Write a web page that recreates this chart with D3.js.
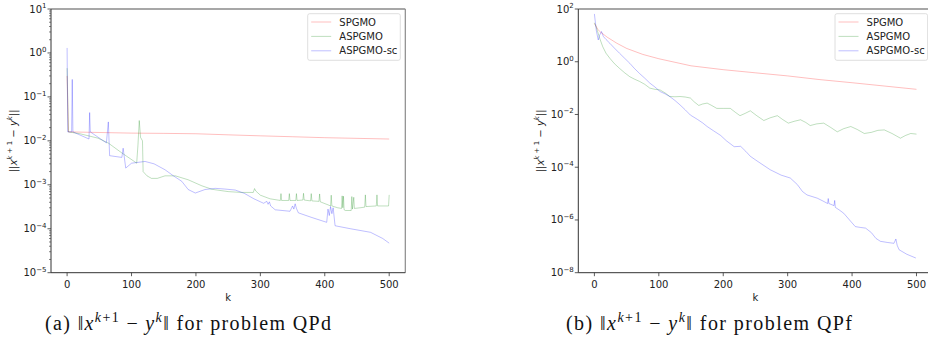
<!DOCTYPE html>
<html><head><meta charset="utf-8">
<script src="https://cdn.jsdelivr.net/npm/d3@7"></script>
<style>body{margin:0;background:#fff}svg{display:block}</style>
</head><body>
<svg id="c" width="928" height="342"></svg>
<script>
// ---------- data ----------
const seriesNames = ["SPGMO", "ASPGMO", "ASPGMO-sc"];
const xTicks = [0, 100, 200, 300, 400, 500];
const yTicksQPd = [-5, -4, -3, -2, -1, 0, 1];      // exponents
const yTicksQPf = [-8, -6, -4, -2, 0, 2];
const captions = ["(a)", "(b)"];
const problems = ["QPd", "QPf"];

const qpdSPGMO = [[0,0.3],[2,0.016],[50,0.0155],[100,0.015],[150,0.0148],[200,0.0145],[250,0.0137],[300,0.013],[350,0.0124],[400,0.0118],[450,0.0114],[500,0.011]];
const qpdASPGMO = [[0,0.45],[2,0.016],[20,0.0145],[48,0.0115],[64,0.0089],[85,0.0053],[103,0.0035],[108,0.0031],[110,0.008],[112,0.029],[114,0.012],[117,0.0100],[118,0.002],[124,0.0016],[131,0.0014],[140,0.0014],[152,0.0016],[168,0.0016],[188,0.0013],[209,0.00095],[225,0.00079],[250,0.0007],[270,0.00067],[289,0.00067],[291,0.00082],[293,0.00072],[300,0.00058],[315,0.00048],[331,0.00044],[332,0.00063],[333,0.00044],[344,0.00044],[345,0.00063],[346,0.00044],[355,0.00044],[356,0.00063],[357,0.00044],[366,0.00045],[367,0.00064],[368,0.00045],[378,0.00043],[379,0.00063],[380,0.00043],[391,0.00042],[392,0.00062],[393,0.00041],[405,0.00035],[409,0.00033],[410,0.00058],[411,0.00033],[420,0.0003],[426,0.00029],[427,0.00056],[428,0.0003],[429,0.00055],[430,0.00027],[432,0.00026],[441,0.00026],[442,0.00054],[443,0.00028],[445,0.00052],[446,0.00029],[455,0.0003],[462,0.00031],[463,0.00059],[464,0.00032],[480,0.00033],[481,0.00059],[482,0.00033],[499,0.00033],[500,0.00059]];
const qpdASPGMOsc = [[0,1.3],[1,0.016],[7,0.016],[8,0.25],[9,0.016],[34,0.011],[35,0.044],[36,0.016],[61,0.009],[64,0.027],[66,0.0046],[85,0.0042],[87,0.0068],[91,0.0024],[100,0.0031],[121,0.0034],[135,0.003],[152,0.0022],[165,0.0016],[178,0.0012],[188,0.00078],[199,0.00065],[214,0.00078],[230,0.00083],[245,0.0008],[261,0.00076],[275,0.00064],[290,0.00048],[305,0.00038],[310,0.00042],[312,0.00036],[314,0.00041],[316,0.00033],[323,0.00027],[346,0.00025],[350,0.00033],[352,0.00028],[354,0.00037],[356,0.00029],[359,0.00023],[380,0.00018],[403,0.00014],[405,0.00028],[407,0.0002],[409,0.00032],[411,0.00022],[413,0.0003],[416,0.000117],[440,0.0001],[471,0.000083],[490,0.00006],[500,0.000047]];

const qpfSPGMO = [[0,28],[2,24],[5,17],[10,13],[20,8.5],[35,5],[50,3.2],[75,1.9],[100,1.3],[150,0.7],[200,0.5],[250,0.38],[300,0.29],[350,0.21],[400,0.16],[450,0.12],[500,0.09]];
const qpfASPGMO = [[0,30],[3,20],[8,8],[13,3.7],[18,2.1],[24,1.35],[31,0.85],[39,0.56],[47,0.38],[55,0.27],[62,0.22],[70,0.18],[78,0.14],[86,0.1],[94,0.09],[102,0.085],[110,0.065],[117,0.048],[125,0.047],[133,0.048],[141,0.046],[149,0.042],[155,0.03],[162,0.022],[168,0.025],[175,0.027],[182,0.022],[190,0.017],[200,0.017],[211,0.017],[219,0.012],[226,0.009],[234,0.011],[242,0.0138],[252,0.009],[263,0.0059],[273,0.0075],[284,0.009],[292,0.0065],[301,0.0047],[310,0.0055],[320,0.0063],[328,0.005],[335,0.0038],[345,0.0044],[356,0.0047],[367,0.0032],[377,0.0022],[387,0.0029],[398,0.0035],[408,0.0027],[419,0.0019],[430,0.0021],[440,0.0025],[450,0.0026],[462,0.0019],[475,0.00126],[483,0.0016],[491,0.0019],[500,0.0018]];
const qpfASPGMOsc = [[0,65],[3,15],[6,6.7],[8,10],[11,14],[14,9],[18,7],[24,5],[31,3.3],[39,2.1],[47,1.35],[55,0.87],[62,0.56],[70,0.36],[78,0.24],[86,0.155],[94,0.11],[102,0.074],[110,0.06],[117,0.048],[125,0.034],[133,0.023],[141,0.015],[149,0.0095],[160,0.0065],[168,0.0048],[175,0.0035],[185,0.0024],[196,0.0016],[205,0.001],[217,0.0006],[227,0.00062],[235,0.0004],[242,0.00026],[250,0.00019],[260,0.00013],[273,0.00008],[290,0.00005],[304,0.000039],[315,0.000022],[323,0.000012],[330,0.0000089],[346,0.0000067],[355,0.0000052],[362,0.0000042],[363,0.0000065],[364,0.0000042],[372,0.0000035],[373,0.0000055],[374,0.000003],[380,0.0000024],[387,0.0000018],[396,0.000001],[405,0.00000056],[413,0.00000052],[421,0.00000049],[430,0.00000033],[437,0.0000002],[444,0.000000155],[455,0.00000014],[465,0.00000013],[468,0.00000019],[470,0.00000011],[473,0.000000074],[485,0.00000005],[499,0.000000036]];

const seriesColors = ["red", "green", "blue"];

// ---------- layout ----------
const svg = d3.select("#c");
const FONT = "DejaVu Sans";

const panels = [
  {x0:51, x1:405.3, y0:9, y1:272.7, dom:[1e-5,10], ticks:yTicksQPd, minor:true,
   data:[qpdSPGMO,qpdASPGMO,qpdASPGMOsc], ylabX:13, cap:captions[0], prob:problems[0], capX:45},
  {x0:578.3, x1:932.6, y0:9, y1:272.7, dom:[1e-8,100], ticks:yTicksQPf, minor:false,
   data:[qpfSPGMO,qpfASPGMO,qpfASPGMOsc], ylabX:540, cap:captions[1], prob:problems[1], capX:566}
];

panels.forEach(p => {
  const g = svg.append("g");
  const x = d3.scaleLinear().domain([-25,525]).range([p.x0,p.x1]);
  const y = d3.scaleLog().domain(p.dom).range([p.y1,p.y0]);

  const cid = "clip" + Math.round(p.x0);
  svg.append("clipPath").attr("id",cid).append("rect")
    .attr("x",p.x0).attr("y",p.y0).attr("width",p.x1-p.x0).attr("height",p.y1-p.y0);

  const line = d3.line().x(d=>x(d[0])).y(d=>y(d[1]));
  p.data.forEach((s,i) => {
    g.append("path").attr("d",line(s)).attr("fill","none")
      .attr("stroke",seriesColors[i]).attr("stroke-opacity",0.3)
      .attr("stroke-width",0.85).attr("clip-path",`url(#${cid})`);
  });

  // spines
  g.append("line").attr("x1",p.x0).attr("x2",p.x1).attr("y1",p.y0).attr("y2",p.y0)
    .attr("stroke","#8a8a8a").attr("stroke-width",1.6);
  g.append("line").attr("x1",p.x1).attr("x2",p.x1).attr("y1",p.y0).attr("y2",p.y1)
    .attr("stroke","#8a8a8a").attr("stroke-width",1.2);
  g.append("line").attr("x1",p.x0).attr("x2",p.x0).attr("y1",p.y0).attr("y2",p.y1)
    .attr("stroke","#333").attr("stroke-width",1);
  g.append("line").attr("x1",p.x0).attr("x2",p.x1).attr("y1",p.y1).attr("y2",p.y1)
    .attr("stroke","#333").attr("stroke-width",1);

  xTicks.forEach(t => {
    const xx = x(t);
    g.append("line").attr("x1",xx).attr("x2",xx).attr("y1",p.y1).attr("y2",p.y1+3.5)
      .attr("stroke","#333").attr("stroke-width",0.8);
    g.append("text").attr("x",xx).attr("y",p.y1+15).attr("text-anchor","middle")
      .attr("font-family",FONT).attr("font-size",10).attr("fill","#222").text(t);
  });
  g.append("text").attr("x",x(250)).attr("y",300.5).attr("text-anchor","middle")
    .attr("font-family",FONT).attr("font-size",10).attr("fill","#222").text("k");

  p.ticks.forEach(e => {
    const yy = y(Math.pow(10,e));
    g.append("line").attr("x1",p.x0-3.5).attr("x2",p.x0).attr("y1",yy).attr("y2",yy)
      .attr("stroke","#333").attr("stroke-width",0.8);
    const t = g.append("text").attr("x",p.x0-4.5).attr("y",yy+3.5).attr("text-anchor","end")
      .attr("font-family",FONT).attr("font-size",10).attr("fill","#222");
    t.append("tspan").text("10");
    t.append("tspan").attr("dy",-4.5).attr("font-size",7).text(e<0 ? "\u2212"+(-e) : String(e));
  });
  if (p.minor) {
    const [lo,hi] = p.dom;
    for (let e=Math.log10(lo); e<Math.log10(hi); e++) {
      for (let m=2; m<=9; m++) {
        const yy = y(m*Math.pow(10,e));
        g.append("line").attr("x1",p.x0-2).attr("x2",p.x0).attr("y1",yy).attr("y2",yy)
          .attr("stroke","#333").attr("stroke-width",0.6);
      }
    }
  }

  // y label
  const yl = g.append("text").attr("transform",`translate(${p.ylabX+3.5},${(p.y0+p.y1)/2}) rotate(-90)`)
    .attr("text-anchor","middle").attr("font-family",FONT).attr("font-size",10).attr("fill","#222");
  yl.append("tspan").text("||");
  yl.append("tspan").attr("font-style","italic").text("x");
  yl.append("tspan").attr("dy",-4.5).attr("font-size",7).attr("font-style","italic").text("k");
  yl.append("tspan").attr("font-size",7).text(" + 1");
  yl.append("tspan").attr("dy",4.5).text(" \u2212 ");
  yl.append("tspan").attr("font-style","italic").text("y");
  yl.append("tspan").attr("dy",-4.5).attr("font-size",7).attr("font-style","italic").text("k");
  yl.append("tspan").attr("dy",4.5).text("||");

  // legend
  const lx = p.x0 + 256.7, ly = 13.7;
  g.append("rect").attr("x",lx).attr("y",ly).attr("width",92.6).attr("height",46.6)
    .attr("rx",2).attr("fill","#fff").attr("fill-opacity",0.8)
    .attr("stroke","#d5d5d5").attr("stroke-width",0.8);
  seriesNames.forEach((n,i) => {
    const yy = ly + 8.3 + i*14.4;
    g.append("line").attr("x1",lx+3.5).attr("x2",lx+23.5).attr("y1",yy).attr("y2",yy)
      .attr("stroke",seriesColors[i]).attr("stroke-opacity",0.3).attr("stroke-width",0.85);
    g.append("text").attr("x",lx+31.6).attr("y",yy+3.6).attr("font-family",FONT)
      .attr("font-size",10).attr("fill","#222").text(n);
  });

  // caption
  const c = svg.append("text").attr("x",p.capX).attr("y",330)
    .attr("font-family","Liberation Serif").attr("font-size",20).attr("fill","#111")
    .attr("textLength",286).attr("lengthAdjust","spacing");
  c.append("tspan").text(p.cap + " \u2016");
  c.append("tspan").attr("font-style","italic").text("x");
  c.append("tspan").attr("dy",-8).attr("font-size",14).attr("font-style","italic").text("k");
  c.append("tspan").attr("font-size",14).text("+1");
  c.append("tspan").attr("dy",8).text(" \u2212 ");
  c.append("tspan").attr("font-style","italic").text("y");
  c.append("tspan").attr("dy",-8).attr("font-size",14).attr("font-style","italic").text("k");
  c.append("tspan").attr("dy",8).text("\u2016 for problem " + p.prob);
});
</script>
</body></html>
